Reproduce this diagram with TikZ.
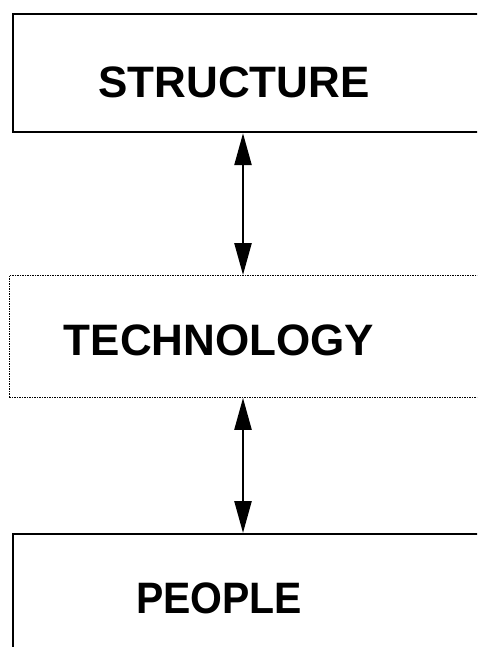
\documentclass[tikz,border=0pt]{standalone}
\usepackage{fontspec}
\setmainfont{Liberation Sans}
\usetikzlibrary{arrows.meta}
\begin{document}
\begin{tikzpicture}[x=1pt,y=-1pt,
  solidbox/.style={draw=black,line width=2.2pt,rectangle,anchor=north west,inner sep=0pt},
  dotbox/.style={draw=black,line width=0.9pt,dash pattern=on 1.5pt off 1pt,rectangle,anchor=north west,inner sep=0pt},
  label/.style={font=\fontsize{44}{44}\selectfont\bfseries,anchor=base,inner sep=0pt},
  dbl/.style={line width=2.5pt,{Triangle[length=32pt,width=17pt]}-{Triangle[length=32pt,width=17pt]}}]
\useasboundingbox (0,0) rectangle (477,647);
\clip (0,0) rectangle (477,647);
\node[solidbox,minimum width=500pt,minimum height=118pt] (structure) at (12,13) {};
\node[dotbox,minimum width=500pt,minimum height=122pt] (technology) at (9,275) {};
\node[solidbox,minimum width=500pt,minimum height=160pt] (people) at (12,533) {};
\node[label] (tstructure) at (234,98) {STRUCTURE};
\node[label] (ttechnology) at (219,355) {TECHNOLOGY};
\node[label,xscale=0.93] (tpeople) at (219,613) {PEOPLE};
\coordinate (ax) at (243,0);
\draw[dbl] (structure.south -| ax) -- (technology.north -| ax);
\draw[dbl] (technology.south -| ax) -- (people.north -| ax);
\end{tikzpicture}
\end{document}
